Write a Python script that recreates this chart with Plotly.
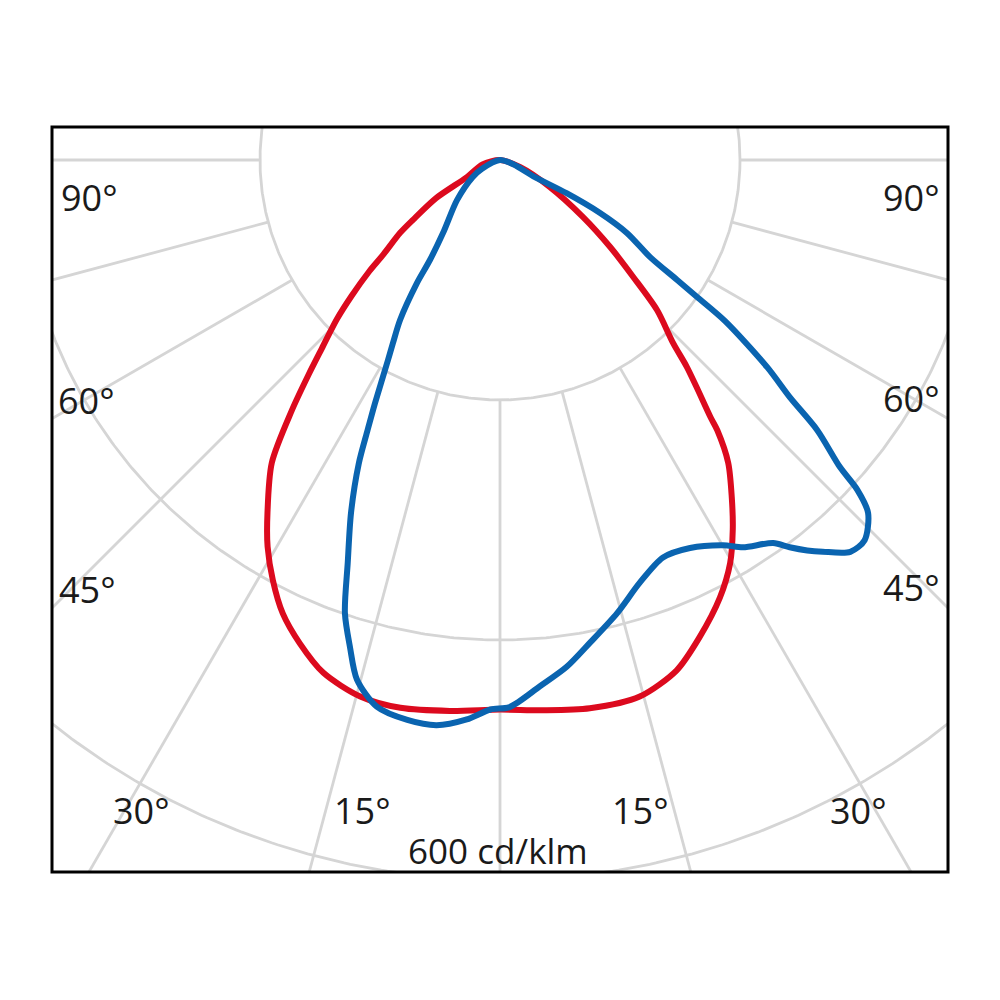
import numpy as np
import plotly.graph_objects as go

# ---- data (angles in degrees from nadir, negative = left; intensities in cd/klm) ----
grid_radii = [200, 400, 600]
grid_angles = [-90, -75, -60, -45, -30, -15, 0, 15, 30, 45, 60, 75, 90]
radial_start = 200
radial_end = 900

red_deg = [-90, -76, -62.7, -59.2, -55.5, -53.9, -51, -49.6, -47.5, -45.7, -43.4, -41.7,
           -39.7, -37, -33.4, -31, -28.4, -25.6, -22.5, -19, -14.6, -10.3, -5.2, 0, 4.5,
           9.3, 14.6, 19.1, 22.7, 26.7, 29.7, 32.2, 34.5, 37, 38.8, 39.3, 40.9, 42.1,
           43.4, 46.3, 48.7, 51.7, 55.5, 61.6, 70.7, 90]
red_cd = [0, 15, 31, 62, 88, 103, 125, 143, 168, 190, 216, 240,
          272, 316, 352, 376, 398, 419, 436, 452, 462, 464, 461, 458, 460,
          463, 462, 450, 431, 408, 387, 364, 341, 316, 289, 277, 250, 232,
          210, 181, 148, 117, 84, 47, 18, 0]

blue_deg = [-90, -64, -58, -47, -38, -35, -34, -32, -30.3, -29.25, -27.2, -26.1, -24.95,
            -22.9, -20.7, -18.9, -17.1, -15.4, -12.7, -9.4, -6.4, -3.4, -1, 1, 4.3, 7.5,
            10.6, 14.5, 18.3, 22.3, 26.1, 30.1, 32.1, 35.5, 36.8, 38.2, 39.5, 41.8, 43.8,
            46.2, 47.3, 47.9, 49.6, 50.7, 52.2, 54.4, 55.2, 55.9, 57.1, 60.1, 62.1,
            63.5, 64, 72, 90]
blue_cd = [0, 17, 27, 49, 77, 102, 124, 157, 177, 191, 228, 251, 279,
           319, 359, 399, 425, 449, 467, 473, 474, 467, 458, 456, 440, 426,
           409, 390, 371, 358, 360, 371, 381, 392, 403, 414, 423, 438, 439,
           425, 405, 382, 347, 312, 282, 231, 200, 178, 149, 122, 94,
           62, 31, 12, 0]

angle_label_text = ["90°", "60°", "45°", "30°", "15°", "15°", "30°", "45°", "60°", "90°"]
unit_label = "600 cd/klm"


def to_xy(deg, cd):
    g = np.radians(np.asarray(deg, dtype=float))
    r = np.asarray(cd, dtype=float)
    return r * np.sin(g), -r * np.cos(g)


GRID = "#d5d5d5"
fig = go.Figure()

# grid circles
t = np.linspace(0, 2 * np.pi, 721)
for rad in grid_radii:
    fig.add_trace(go.Scatter(x=rad * np.cos(t), y=rad * np.sin(t), mode="lines",
                             line=dict(color=GRID, width=2.8), hoverinfo="skip",
                             showlegend=False))
# radial lines
for a in grid_angles:
    xs, ys = to_xy([a, a], [radial_start, radial_end])
    fig.add_trace(go.Scatter(x=xs, y=ys, mode="lines", line=dict(color=GRID, width=2.8),
                             hoverinfo="skip", showlegend=False))

# curves
rx, ry = to_xy(red_deg, red_cd)
fig.add_trace(go.Scatter(x=rx, y=ry, mode="lines", name="C0-C180",
                         line=dict(color="#dc0a1e", width=6, shape="spline", smoothing=0.8),
                         showlegend=False))
bx, by = to_xy(blue_deg, blue_cd)
fig.add_trace(go.Scatter(x=bx, y=by, mode="lines", name="C90-C270",
                         line=dict(color="#0a64b0", width=6, shape="spline", smoothing=0.8),
                         showlegend=False))

# labels (positions in cd/klm units)
label_pos = [(-342, -31), (-345, -200), (-344, -358), (-299, -542), (-115, -542),
             (117, -542), (299, -542), (343, -356), (343, -199), (343, -31)]
for txt, (lx, ly) in zip(angle_label_text, label_pos):
    fig.add_annotation(x=lx, y=ly, text=txt, showarrow=False, xanchor="center",
                       yanchor="middle", font=dict(family="Open Sans", size=36, color="#1a1a1a"))
fig.add_annotation(x=-2, y=-575, text=unit_label, showarrow=False, xanchor="center",
                   yanchor="middle", font=dict(family="Open Sans", size=35, color="#1a1a1a"))

# frame
fig.add_shape(type="rect", xref="paper", yref="paper", x0=0, y0=0, x1=1, y1=1,
              line=dict(color="black", width=3), layer="above")

fig.update_xaxes(range=[-448 / 1.2, 448 / 1.2], visible=False, fixedrange=True)
fig.update_yaxes(range=[(160 - 872) / 1.2, (160 - 127) / 1.2], visible=False, fixedrange=True)
fig.update_layout(width=1000, height=1000, margin=dict(l=44, r=60, t=119, b=136),
                  paper_bgcolor="white", plot_bgcolor="white", showlegend=False)

fig.write_html("out.html")
